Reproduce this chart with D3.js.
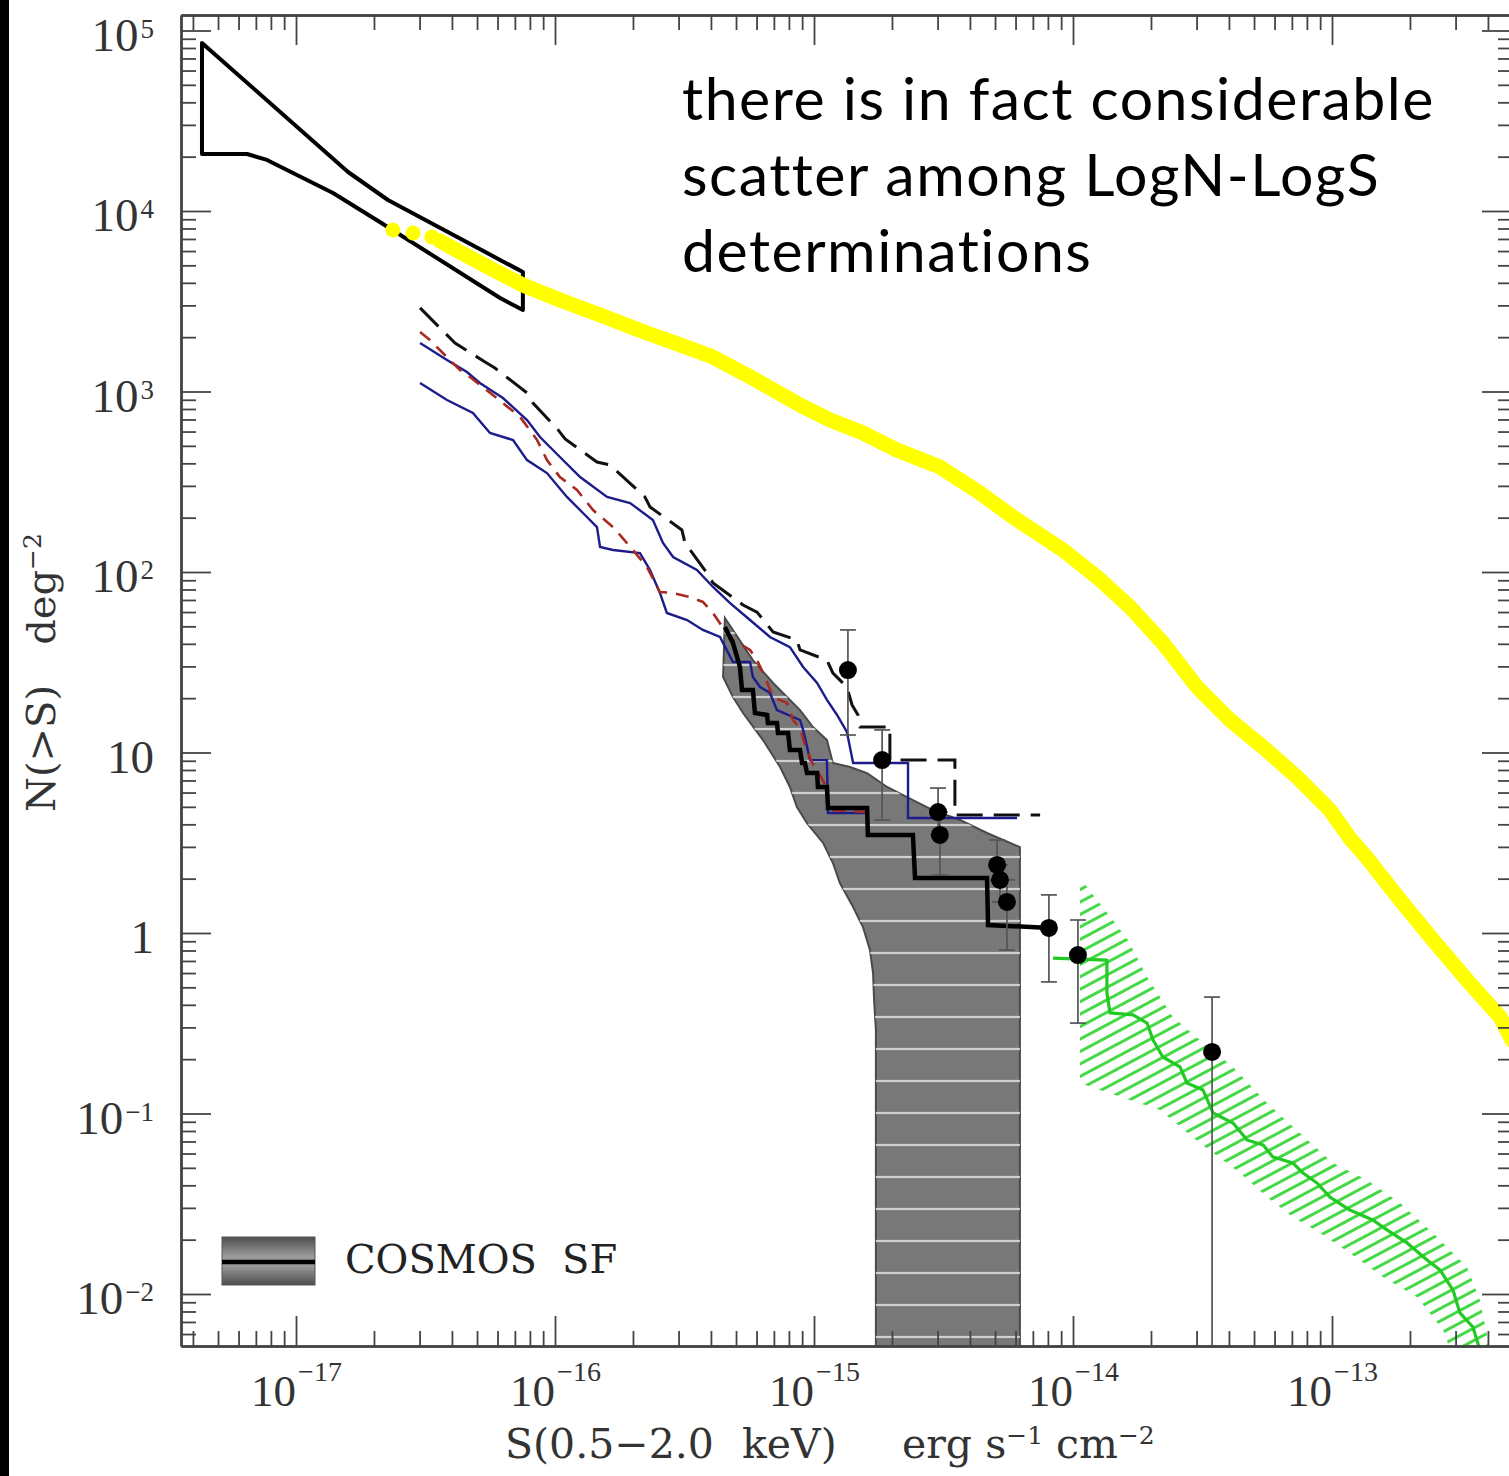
<!DOCTYPE html>
<html>
<head>
<meta charset="utf-8">
<title>LogN-LogS</title>
<script src="https://cdn.jsdelivr.net/npm/d3@7"></script>
<style>
  body { margin: 0; background: #fff; }
  svg { display: block; }
  .note { font-variant-ligatures: none; }
</style>
</head>
<body>
<script>
//values as [log10 S (erg s-1 cm-2), log10 N(>S) (deg-2)]

//axis ticks and their labels
var xMajorTicks = [1e-17, 1e-16, 1e-15, 1e-14, 1e-13];
var xTickExponents = ["\u221217", "\u221216", "\u221215", "\u221214", "\u221213"];
var yMajorTicks = [1e5, 1e4, 1e3, 1e2, 10, 1, 0.1, 0.01];
var yTickBases = ["10", "10", "10", "10", "10", "1", "10", "10"];
var yTickExponents = ["5", "4", "3", "2", "", "", "\u22121", "\u22122"];

//deep-field bow tie (upper and lower edges)
var bowTieUpper = [[-17.363,4.931],[-16.799,4.216],[-16.645,4.061],[-16.212,3.729],[-16.124,3.662]];
var bowTieLower = [[-17.363,4.316],[-17.189,4.316],[-17.112,4.283],[-16.857,4.100],[-16.664,3.928],[-16.212,3.518],[-16.124,3.452]];

//yellow curve: three isolated dots then the thick line
var yellowDots = [[-16.626,3.895],[-16.548,3.878],[-16.475,3.856]];
var yellowCurve = [[-16.444,3.834],[-16.367,3.773],[-16.251,3.684],[-16.124,3.590],[-15.981,3.507],[-15.826,3.424],
  [-15.645,3.324],[-15.517,3.258],[-15.390,3.191],[-15.259,3.091],[-15.170,3.019],[-15.054,2.925],[-14.938,2.842],
  [-14.811,2.770],[-14.680,2.676],[-14.514,2.582],[-14.359,2.438],[-14.232,2.305],[-14.039,2.122],[-13.907,1.972],
  [-13.780,1.806],[-13.653,1.607],[-13.521,1.363],[-13.394,1.180],[-13.266,1.030],[-13.135,0.864],[-13.008,0.681],
  [-12.931,0.526],[-12.865,0.416],[-12.737,0.183],[-12.610,-0.039],[-12.479,-0.260],[-12.351,-0.465],[-12.305,-0.593]];

//black long-dashed counts
var blackDashed = [[-16.521,3.463],[-16.425,3.324],[-16.386,3.269],[-16.270,3.163],[-16.232,3.130],[-16.108,2.992],
  [-16.085,2.936],[-15.988,2.787],[-15.961,2.737],[-15.838,2.609],[-15.788,2.593],[-15.653,2.416],[-15.633,2.360],
  [-15.510,2.233],[-15.498,2.161],[-15.413,1.994],[-15.390,1.939],[-15.274,1.817],[-15.220,1.778],[-15.158,1.668],
  [-15.066,1.623],[-15.054,1.568],[-14.950,1.512],[-14.927,1.440],[-14.873,1.363],[-14.853,1.263],[-14.830,1.208],
  [-14.822,1.141],[-14.707,1.141],[-14.707,0.958],[-14.456,0.958],[-14.456,0.654],[-14.127,0.654]];

//red dashed counts
var redDashed = [[-16.521,3.330],[-16.483,3.285],[-16.367,3.119],[-16.328,3.080],[-16.201,2.936],[-16.135,2.859],
  [-16.069,2.731],[-16.031,2.620],[-15.981,2.526],[-15.915,2.454],[-15.853,2.343],[-15.776,2.249],[-15.699,2.122],
  [-15.645,2.028],[-15.595,1.889],[-15.544,1.884],[-15.479,1.861],[-15.429,1.834],[-15.390,1.773],[-15.324,1.634],
  [-15.247,1.568],[-15.220,1.512],[-15.189,1.418],[-15.158,1.307],[-15.104,1.274],[-15.081,1.180],[-15.054,1.136],
  [-15.035,1.042],[-15.008,0.947],[-14.977,0.875],[-14.946,0.792],[-14.946,0.681],[-14.795,0.670]];

//blue counts (upper and lower)
var blueUpper = [[-16.521,3.269],[-16.417,3.175],[-16.340,3.108],[-16.290,3.047],[-16.201,2.964],[-16.108,2.842],
  [-16.058,2.748],[-15.981,2.637],[-15.903,2.526],[-15.799,2.416],[-15.710,2.382],[-15.622,2.288],[-15.583,2.161],
  [-15.544,2.083],[-15.452,2.011],[-15.390,1.917],[-15.324,1.828],[-15.247,1.734],[-15.170,1.640],[-15.093,1.584],
  [-15.042,1.474],[-14.988,1.385],[-14.950,1.291],[-14.911,1.208],[-14.873,1.114],[-14.849,0.942],[-14.637,0.942],
  [-14.637,0.637],[-14.216,0.637]];
var blueLower = [[-16.521,3.047],[-16.417,2.953],[-16.317,2.881],[-16.251,2.770],[-16.162,2.731],[-16.108,2.620],
  [-16.031,2.548],[-15.954,2.416],[-15.892,2.327],[-15.838,2.249],[-15.826,2.139],[-15.776,2.122],[-15.672,2.105],
  [-15.633,2.011],[-15.595,1.884],[-15.568,1.773],[-15.490,1.734],[-15.429,1.679],[-15.363,1.640],[-15.313,1.501],
  [-15.247,1.501],[-15.236,1.418],[-15.208,1.363],[-15.170,1.330],[-15.143,1.235],[-15.054,1.180],[-15.042,1.125],
  [-15.015,0.958],[-14.950,0.958],[-14.946,0.665],[-14.795,0.665]];

//COSMOS SF: step line and shaded region (top edge, left edge, floor)
var cosmosStep = [[-15.344,1.695],[-15.313,1.607],[-15.286,1.474],[-15.278,1.346],[-15.236,1.346],[-15.228,1.219],
  [-15.181,1.208],[-15.178,1.163],[-15.143,1.163],[-15.139,1.108],[-15.100,1.108],[-15.093,1.014],[-15.054,1.014],
  [-15.046,0.942],[-15.035,0.942],[-15.027,0.886],[-14.988,0.886],[-14.985,0.809],[-14.950,0.809],[-14.946,0.693],
  [-14.795,0.693],[-14.792,0.543],[-14.618,0.543],[-14.610,0.305],[-14.332,0.305],[-14.328,0.044],[-14.089,0.028]];
var cosmosTop = [[-15.344,1.745],[-15.236,1.512],[-15.158,1.385],[-15.054,1.235],[-15.004,1.141],[-14.950,1.069],
  [-14.927,0.942],[-14.861,0.920],[-14.795,0.886],[-14.718,0.809],[-14.641,0.753],[-14.541,0.681],[-14.436,0.626],
  [-14.332,0.554],[-14.205,0.476]];
var cosmosLeft = [[-15.351,1.418],[-15.313,1.307],[-15.274,1.219],[-15.197,1.069],[-15.131,0.920],[-15.093,0.809],
  [-15.066,0.698],[-15.027,0.609],[-14.965,0.499],[-14.927,0.388],[-14.900,0.277],[-14.849,0.144],[-14.811,0.033],
  [-14.784,-0.094],[-14.772,-0.222],[-14.768,-0.371],[-14.761,-0.537]];
var cosmosFloor = -3;

//green curve and its hatched band
var greenCurve = [[-14.077,-0.139],[-13.869,-0.150],[-13.869,-0.332],[-13.857,-0.443],[-13.768,-0.454],[-13.714,-0.499],
  [-13.691,-0.593],[-13.653,-0.687],[-13.587,-0.742],[-13.560,-0.831],[-13.498,-0.870],[-13.459,-0.997],[-13.382,-1.053],
  [-13.328,-1.147],[-13.266,-1.175],[-13.228,-1.241],[-13.151,-1.274],[-13.112,-1.330],[-13.058,-1.385],[-13.008,-1.463],
  [-12.931,-1.535],[-12.842,-1.590],[-12.788,-1.645],[-12.710,-1.717],[-12.633,-1.812],[-12.583,-1.867],[-12.533,-1.978],
  [-12.506,-2.105],[-12.456,-2.183],[-12.429,-2.310]];
var greenBandUpper = [[-13.973,0.305],[-13.907,0.183],[-13.846,0.072],[-13.788,-0.039],[-13.714,-0.244],[-13.614,-0.465],
  [-13.510,-0.593],[-13.382,-0.742],[-13.251,-0.942],[-13.124,-1.108],[-12.996,-1.274],[-12.865,-1.368],[-12.737,-1.496],
  [-12.610,-1.662],[-12.479,-1.850],[-12.429,-2.033],[-12.390,-2.310]];
var greenBandLower = [[-13.973,-0.831],[-13.896,-0.870],[-13.664,-0.981],[-13.510,-1.163],[-13.355,-1.330],[-13.251,-1.463],
  [-13.151,-1.573],[-13.046,-1.662],[-12.931,-1.773],[-12.803,-1.906],[-12.672,-2.017],[-12.571,-2.199],[-12.544,-2.310]];

//points with error bars
var pointLogS = [-14.869, -14.737, -14.521, -14.514, -14.293, -14.282, -14.255, -14.093, -13.981, -13.463];
var pointLogN = [1.457, 0.958, 0.670, 0.543, 0.377, 0.294, 0.172, 0.028, -0.122, -0.659];
var pointLogHi = [1.679, 1.125, 0.803, 0.670, 0.515, 0.377, 0.294, 0.211, 0.072, -0.355];
var pointLogLo = [1.097, 0.626, 0.543, 0.321, 0.294, 0.172, -0.094, -0.271, -0.499, -3];

var legendLabel = ["COSMOS", "SF"];
var noteLines = ["there is in fact considerable", "scatter among LogN-LogS", "determinations"];

(function(){

  var width = 1509, height = 1476;
  var plot = {left: 181, right: 1511, top: 15, bottom: 1346};
  var numFont = "'Liberation Serif', serif",
      textFont = "'DejaVu Serif', serif";

  var svg = d3.select("body").append("svg")
    .attr("width", width)
    .attr("height", height);

  svg.append("rect").attr("width", width).attr("height", height).attr("fill", "#fff");
  //dark strip on the left edge of the slide
  svg.append("rect").attr("x", 0).attr("y", 0).attr("width", 9).attr("height", height).attr("fill", "#000");

  //log scales, anchored on the decade ticks and widened to the frame
  var x = d3.scaleLog().domain([1e-17, 1e-13]).range([296, 1332]);
  x.domain([x.invert(plot.left), x.invert(plot.right)]).range([plot.left, plot.right]);
  var y = d3.scaleLog().domain([1e4, 1e-2]).range([211, 1294]);
  y.domain([y.invert(plot.bottom), y.invert(plot.top)]).range([plot.bottom, plot.top]);

  function px(d){ return x(Math.pow(10, d[0])); }
  function py(d){ return y(Math.pow(10, d[1])); }
  var line = d3.line().x(px).y(py);

  var defs = svg.append("defs");
  defs.append("clipPath").attr("id", "plotClip")
    .append("rect")
    .attr("x", plot.left).attr("y", plot.top)
    .attr("width", plot.right - plot.left).attr("height", plot.bottom - plot.top);

  //white stripes over the grey COSMOS region
  var stripes = defs.append("pattern").attr("id", "stripes")
    .attr("patternUnits", "userSpaceOnUse").attr("width", 20).attr("height", 32);
  stripes.append("line").attr("x1", 0).attr("x2", 20).attr("y1", 25).attr("y2", 25)
    .attr("stroke", "#d0d0d0").attr("stroke-width", 2.2);

  //green hatching
  var hatch = defs.append("pattern").attr("id", "hatch")
    .attr("patternUnits", "userSpaceOnUse").attr("width", 60).attr("height", 11)
    .attr("patternTransform", "rotate(-28)");
  hatch.append("line").attr("x1", 0).attr("x2", 60).attr("y1", 5.5).attr("y2", 5.5)
    .attr("stroke", "#45da45").attr("stroke-width", 3);

  var grad = defs.append("linearGradient").attr("id", "legendGrad")
    .attr("x1", 0).attr("y1", 0).attr("x2", 0).attr("y2", 1);
  grad.append("stop").attr("offset", "0%").attr("stop-color", "#4e4e4e");
  grad.append("stop").attr("offset", "40%").attr("stop-color", "#9a9a9a");
  grad.append("stop").attr("offset", "60%").attr("stop-color", "#9a9a9a");
  grad.append("stop").attr("offset", "100%").attr("stop-color", "#4e4e4e");

  var g = svg.append("g").attr("clip-path", "url(#plotClip)");

  //grey COSMOS region
  var cosmosPoly = cosmosTop
    .concat([[cosmosTop[cosmosTop.length - 1][0], cosmosFloor], [cosmosLeft[cosmosLeft.length - 1][0], cosmosFloor]])
    .concat(cosmosLeft.slice().reverse());
  g.append("path").datum(cosmosPoly)
    .attr("d", function(d){ return line(d) + "Z"; })
    .attr("fill", "#787878").attr("stroke", "#4a4a4a").attr("stroke-width", 2);
  g.append("path").datum(cosmosPoly)
    .attr("d", function(d){ return line(d) + "Z"; })
    .attr("fill", "url(#stripes)");

  //green band
  var greenPoly = greenBandUpper.concat(greenBandLower.slice().reverse());
  g.append("path").datum(greenPoly)
    .attr("d", function(d){ return line(d) + "Z"; })
    .attr("fill", "url(#hatch)");

  //bow tie
  g.append("path").datum(bowTieUpper.concat(bowTieLower.slice().reverse()))
    .attr("d", function(d){ return line(d) + "Z"; })
    .attr("fill", "none").attr("stroke", "#000").attr("stroke-width", 4)
    .attr("stroke-linejoin", "round");

  //yellow curve
  g.append("path").datum(yellowCurve)
    .attr("d", line)
    .attr("fill", "none").attr("stroke", "#ffff00").attr("stroke-width", 15)
    .attr("stroke-linecap", "round").attr("stroke-linejoin", "round");
  g.selectAll(".ydot").data(yellowDots).enter().append("circle")
    .attr("class", "ydot")
    .attr("cx", px).attr("cy", py).attr("r", 7.5)
    .attr("fill", "#ffff00");

  //survey curves
  g.append("path").datum(blackDashed)
    .attr("d", line)
    .attr("fill", "none").attr("stroke", "#111").attr("stroke-width", 3)
    .attr("stroke-dasharray", "26,11");
  g.append("path").datum(blueUpper)
    .attr("d", line)
    .attr("fill", "none").attr("stroke", "#1c1c8a").attr("stroke-width", 2.4);
  g.append("path").datum(blueLower)
    .attr("d", line)
    .attr("fill", "none").attr("stroke", "#1c1c8a").attr("stroke-width", 2.4);
  g.append("path").datum(redDashed)
    .attr("d", line)
    .attr("fill", "none").attr("stroke", "#a82a20").attr("stroke-width", 2.6)
    .attr("stroke-dasharray", "13,9");
  g.append("path").datum(cosmosStep)
    .attr("d", line)
    .attr("fill", "none").attr("stroke", "#000").attr("stroke-width", 4.5);
  g.append("path").datum(greenCurve)
    .attr("d", line)
    .attr("fill", "none").attr("stroke", "#22c922").attr("stroke-width", 3.2)
    .attr("stroke-linejoin", "round");

  //error bars and points
  var pts = pointLogS.map(function(s, i){
    return {s: s, n: pointLogN[i], hi: pointLogHi[i], lo: pointLogLo[i]};
  });
  var bars = g.selectAll(".err").data(pts).enter().append("g").attr("class", "err")
    .attr("stroke", "#555").attr("stroke-width", 1.7);
  bars.append("line")
    .attr("x1", function(d){ return px([d.s, 0]); })
    .attr("x2", function(d){ return px([d.s, 0]); })
    .attr("y1", function(d){ return py([0, d.hi]); })
    .attr("y2", function(d){ return py([0, d.lo]); });
  bars.append("line")
    .attr("x1", function(d){ return px([d.s, 0]) - 8; })
    .attr("x2", function(d){ return px([d.s, 0]) + 8; })
    .attr("y1", function(d){ return py([0, d.hi]); })
    .attr("y2", function(d){ return py([0, d.hi]); });
  bars.append("line")
    .attr("x1", function(d){ return px([d.s, 0]) - 8; })
    .attr("x2", function(d){ return px([d.s, 0]) + 8; })
    .attr("y1", function(d){ return py([0, d.lo]); })
    .attr("y2", function(d){ return py([0, d.lo]); });
  g.selectAll(".pt").data(pts).enter().append("circle")
    .attr("class", "pt")
    .attr("cx", function(d){ return px([d.s, 0]); })
    .attr("cy", function(d){ return py([0, d.n]); })
    .attr("r", 9)
    .attr("fill", "#000");

  //axes: majors and minors on all four sides, ticks inside
  function isDecade(v){
    var l = Math.log10(v);
    return Math.abs(l - Math.round(l)) < 1e-6;
  }
  var xMinor = x.ticks().filter(function(v){ return !isDecade(v); });
  var yMinor = y.ticks().filter(function(v){ return !isDecade(v); });

  function styleAxis(sel){
    sel.selectAll("path.domain").attr("stroke", "#444").attr("stroke-width", 2.4);
    sel.selectAll(".tick line").attr("stroke", "#444").attr("stroke-width", 1.8);
  }

  var axes = svg.append("g");

  //bottom
  var bottomMinor = axes.append("g").attr("transform", "translate(0," + plot.bottom + ")")
    .call(d3.axisBottom(x).tickValues(xMinor).tickSizeInner(-15).tickSizeOuter(0).tickFormat(""));
  styleAxis(bottomMinor);
  var bottomMajor = axes.append("g").attr("transform", "translate(0," + plot.bottom + ")")
    .call(d3.axisBottom(x).tickValues(xMajorTicks).tickSizeInner(-30).tickSizeOuter(0).tickPadding(0));
  styleAxis(bottomMajor);
  bottomMajor.selectAll(".tick text").each(function(d, i){
    var t = d3.select(this);
    t.text(null)
      .attr("y", 60).attr("dy", 0)
      .attr("font-family", numFont).attr("font-size", 45).attr("fill", "#333");
    t.append("tspan").text("10");
    t.append("tspan").attr("dx", 2).attr("dy", -25).attr("font-size", 28).text(xTickExponents[i]);
  });

  //top
  var topMinor = axes.append("g").attr("transform", "translate(0," + plot.top + ")")
    .call(d3.axisTop(x).tickValues(xMinor).tickSizeInner(-15).tickSizeOuter(0).tickFormat(""));
  styleAxis(topMinor);
  var topMajor = axes.append("g").attr("transform", "translate(0," + plot.top + ")")
    .call(d3.axisTop(x).tickValues(xMajorTicks).tickSizeInner(-30).tickSizeOuter(0).tickFormat(""));
  styleAxis(topMajor);

  //left
  var leftMinor = axes.append("g").attr("transform", "translate(" + plot.left + ",0)")
    .call(d3.axisLeft(y).tickValues(yMinor).tickSizeInner(-15).tickSizeOuter(0).tickFormat(""));
  styleAxis(leftMinor);
  var leftMajor = axes.append("g").attr("transform", "translate(" + plot.left + ",0)")
    .call(d3.axisLeft(y).tickValues(yMajorTicks).tickSizeInner(-30).tickSizeOuter(0).tickPadding(27));
  styleAxis(leftMajor);
  leftMajor.selectAll(".tick text").each(function(d, i){
    var t = d3.select(this);
    t.text(null)
      .attr("dy", "0.42em")
      .attr("font-family", numFont).attr("font-size", 47).attr("fill", "#333");
    t.append("tspan").text(yTickBases[i]);
    if (yTickExponents[i]) {
      t.append("tspan").attr("dx", 2).attr("dy", -13).attr("font-size", 27).text(yTickExponents[i]);
    }
  });

  //right
  var rightMinor = axes.append("g").attr("transform", "translate(" + plot.right + ",0)")
    .call(d3.axisRight(y).tickValues(yMinor).tickSizeInner(-13).tickSizeOuter(0).tickFormat(""));
  styleAxis(rightMinor);
  var rightMajor = axes.append("g").attr("transform", "translate(" + plot.right + ",0)")
    .call(d3.axisRight(y).tickValues(yMajorTicks).tickSizeInner(-29).tickSizeOuter(0).tickFormat(""));
  styleAxis(rightMajor);

  //axis titles
  var xTitle = svg.append("text")
    .attr("x", 505).attr("y", 1458)
    .attr("font-family", textFont).attr("font-size", 41).attr("fill", "#333");
  xTitle.append("tspan").text("S(0.5\u22122.0");
  xTitle.append("tspan").attr("x", 742).text("keV)");
  xTitle.append("tspan").attr("x", 902).text("erg s");
  xTitle.append("tspan").attr("dy", -14).attr("font-size", 25).text("\u22121");
  xTitle.append("tspan").attr("dy", 14).text(" cm");
  xTitle.append("tspan").attr("dy", -14).attr("font-size", 25).text("\u22122");

  var yTitle = svg.append("text")
    .attr("transform", "translate(55,812) rotate(-90)")
    .attr("font-family", textFont).attr("font-size", 40).attr("fill", "#333");
  yTitle.append("tspan").text("N(>S)");
  yTitle.append("tspan").attr("dx", 40).text("deg");
  yTitle.append("tspan").attr("dy", -14).attr("font-size", 25).text("\u22122");

  //legend
  svg.append("rect")
    .attr("x", 222).attr("y", 1237).attr("width", 93).attr("height", 48)
    .attr("fill", "url(#legendGrad)").attr("stroke", "#555").attr("stroke-width", 1);
  svg.append("line")
    .attr("x1", 222).attr("x2", 315).attr("y1", 1262).attr("y2", 1262)
    .attr("stroke", "#000").attr("stroke-width", 4.5);
  svg.append("text")
    .attr("x", 345).attr("y", 1273)
    .attr("font-family", textFont).attr("font-size", 40).attr("fill", "#222")
    .text(legendLabel[0]);
  svg.append("text")
    .attr("x", 562).attr("y", 1273)
    .attr("font-family", textFont).attr("font-size", 40).attr("fill", "#222")
    .text(legendLabel[1]);

  //annotation
  svg.selectAll(".note").data(noteLines).enter().append("text")
    .attr("class", "note")
    .attr("x", 682)
    .attr("y", function(d, i){ return 120 + i * 76; })
    .attr("font-family", "Lato, sans-serif").attr("font-size", 59)
    .attr("letter-spacing", 1.5).attr("fill", "#000")
    .text(function(d){ return d; });

})();
</script>
</body>
</html>
